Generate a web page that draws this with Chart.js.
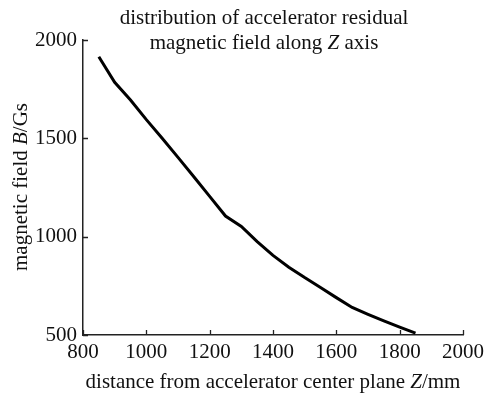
<!DOCTYPE html>
<html>
<head>
<meta charset="utf-8">
<script src="https://cdn.jsdelivr.net/npm/chart.js@4/dist/chart.umd.min.js"></script>
<style>
  body { margin: 0; background: #fff; }
  canvas { display: block; }
</style>
</head>
<body>
<canvas id="canvas" width="485" height="395"></canvas>
<script>
// distance from center plane (mm) and residual field (Gs)
const distanceZ = [850, 900, 950, 1000, 1050, 1100, 1150, 1200, 1250, 1300, 1350, 1400, 1450, 1500, 1550, 1600, 1650, 1700, 1750, 1800, 1850];
const fieldB = [1915, 1785, 1695, 1595, 1500, 1403, 1305, 1205, 1105, 1052, 975, 905, 845, 792, 742, 690, 640, 605, 572, 540, 510];
const xTicks = [800, 1000, 1200, 1400, 1600, 1800, 2000];
const yTicks = [500, 1000, 1500, 2000];

const titleLines = [
    [['distribution of accelerator residual', false]],
    [['magnetic field along ', false], ['Z', true], [' axis', false]]
];
const xTitle = [['distance from accelerator center plane ', false], ['Z', true], ['/mm', false]];
const yTitle = [['magnetic field ', false], ['B', true], ['/Gs', false]];

const FONT = "'Liberation Serif', 'Times New Roman', serif";
const SIZE = 21;

function drawMixed(ctx, parts, cx, cy) {
    let total = 0;
    parts.forEach(p => {
        ctx.font = (p[1] ? 'italic ' : '') + SIZE + 'px ' + FONT;
        total += ctx.measureText(p[0]).width;
    });
    let x = cx - total / 2;
    ctx.textAlign = 'left';
    ctx.textBaseline = 'middle';
    parts.forEach(p => {
        ctx.font = (p[1] ? 'italic ' : '') + SIZE + 'px ' + FONT;
        ctx.fillText(p[0], x, cy);
        x += ctx.measureText(p[0]).width;
    });
}

const decorations = {
    id: 'decorations',
    afterDraw(chart) {
        const ctx = chart.ctx;
        const xs = chart.scales.x, ys = chart.scales.y;
        const area = chart.chartArea;
        ctx.save();
        // inward ticks
        ctx.strokeStyle = '#222';
        ctx.lineWidth = 1.3;
        ctx.beginPath();
        xTicks.forEach(v => {
            const px = Math.round(xs.getPixelForValue(v)) + 0.5;
            ctx.moveTo(px, area.bottom);
            ctx.lineTo(px, area.bottom - 5);
        });
        yTicks.forEach(v => {
            const py = Math.round(ys.getPixelForValue(v)) + 0.5;
            ctx.moveTo(area.left, py);
            ctx.lineTo(area.left + 5, py);
        });
        ctx.stroke();

        ctx.fillStyle = '#111';
        drawMixed(ctx, titleLines[0], 264, 18);
        drawMixed(ctx, titleLines[1], 264, 43);
        drawMixed(ctx, xTitle, 273, 382);
        ctx.translate(21, 187);
        ctx.rotate(-Math.PI / 2);
        drawMixed(ctx, yTitle, 0, 0);
        ctx.restore();
    }
};

var ctx = document.getElementById('canvas').getContext('2d');
var myChart = new Chart(ctx, {
    type: 'line',
    data: {
        datasets: [{
            data: distanceZ.map((z, i) => ({ x: z, y: fieldB[i] })),
            borderColor: '#000',
            borderWidth: 3,
            pointRadius: 0,
            tension: 0,
            fill: false
        }]
    },
    options: {
        responsive: false,
        animation: false,
        layout: { padding: { left: 0, right: 0, top: 40, bottom: 0 } },
        plugins: { legend: { display: false }, tooltip: { enabled: false } },
        scales: {
            x: {
                type: 'linear',
                min: 800,
                max: 2000,
                afterBuildTicks: s => { s.ticks = xTicks.map(v => ({ value: v })); },
                afterFit: s => { s.height = 60; s.paddingRight = 22; s.paddingLeft = 0; },
                grid: { drawOnChartArea: false, drawTicks: false },
                border: { display: true, color: '#222', width: 1.5 },
                ticks: { color: '#111', padding: 5, maxRotation: 0, callback: v => String(v), font: { family: FONT, size: SIZE } }
            },
            y: {
                min: 500,
                max: 2000,
                afterBuildTicks: s => { s.ticks = yTicks.map(v => ({ value: v })); },
                afterFit: s => { s.width = 83; },
                grid: { drawOnChartArea: false, drawTicks: false },
                border: { display: true, color: '#222', width: 1.5 },
                ticks: { color: '#111', padding: 6, callback: v => String(v), font: { family: FONT, size: SIZE } }
            }
        }
    },
    plugins: [decorations]
});
</script>
</body>
</html>
